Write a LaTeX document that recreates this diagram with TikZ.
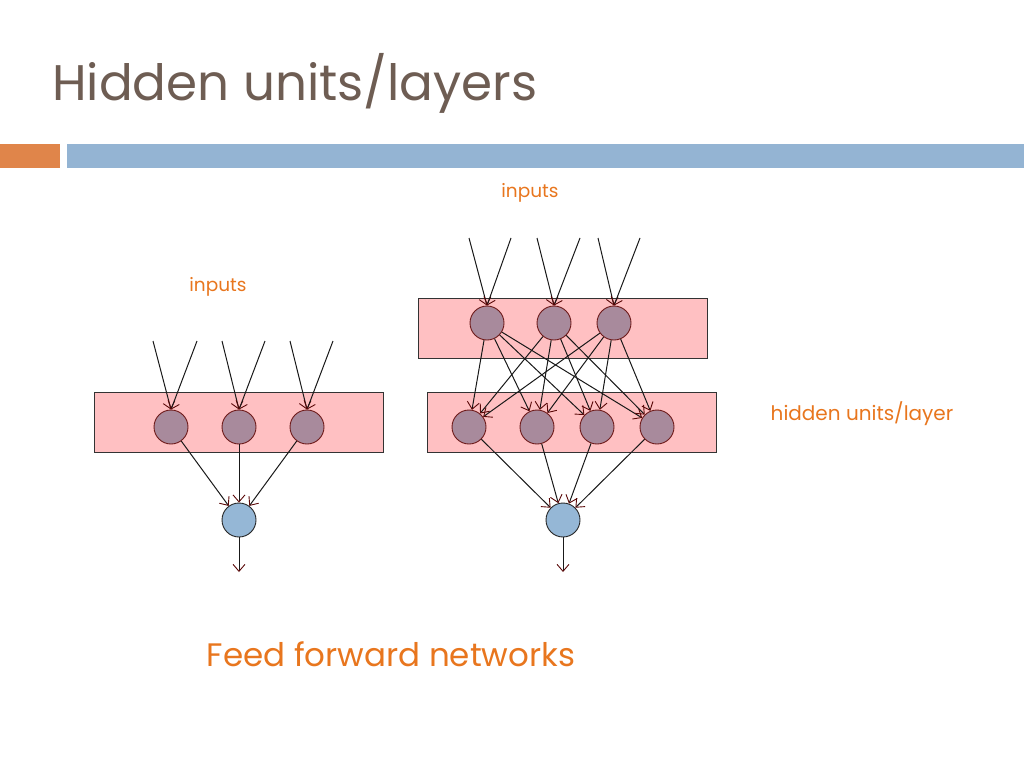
\documentclass[tikz,border=0pt]{standalone}
\usepackage{fontspec}
\setmainfont{Poppins}
\usetikzlibrary{arrows.meta}
\definecolor{titlec}{HTML}{6E5D53}
\definecolor{orangec}{HTML}{E8761E}
\definecolor{barorange}{HTML}{E0854A}
\definecolor{barblue}{HTML}{94B4D3}
\definecolor{boxfill}{HTML}{FFC0C2}
\definecolor{unitfill}{HTML}{A88A9C}
\definecolor{unitdraw}{HTML}{6E1A1A}
\definecolor{outfill}{HTML}{95B7D6}
\definecolor{tipc}{HTML}{5A0808}
\tikzset{
  layerbox/.style={draw=black!80, fill=boxfill, line width=0.9pt},
  unit/.style={circle, draw=unitdraw, fill=unitfill, minimum size=34pt, inner sep=0pt, line width=0.9pt},
  outunit/.style={circle, draw=black!85, fill=outfill, minimum size=34pt, inner sep=0pt, line width=0.9pt},
  conn/.style={draw=black!90, line width=1pt, -{Straight Barb[length=7pt,width=12pt,color=tipc,line width=0.9pt]}},
  lbl/.style={text=orangec, font=\fontsize{18.5}{22}\selectfont, inner sep=0pt},
}
\begin{document}
\begin{tikzpicture}[x=1pt,y=-1pt]
\useasboundingbox (0,0) rectangle (1024,768);
% title and bars
\node[anchor=west, text=titlec, inner sep=0pt, font=\fontsize{50}{60}\selectfont] (title) at (52,83) {Hidden units/layers};
\fill[barorange] (0,144) rectangle (60,168);
\fill[barblue] (67,144) rectangle (1024,168);

% ---------- left network ----------
\node[lbl] (inL) at (218,287) {inputs};
\draw[layerbox] (94,392) rectangle (383,452);
\node[unit] (a1) at (171,427) {};
\node[unit] (a2) at (239,427) {};
\node[unit] (a3) at (307,427) {};
\node[outunit] (ao) at (239,520) {};
\coordinate (ain1) at (153,341); \coordinate (ain2) at (197,341);
\coordinate (ain3) at (222,341); \coordinate (ain4) at (265,341);
\coordinate (ain5) at (290,341); \coordinate (ain6) at (333,341);
\coordinate (aend) at (239,572);
\draw[conn] (ain1) -- (a1.north);
\draw[conn] (ain2) -- (a1.north);
\draw[conn] (ain3) -- (a2.north);
\draw[conn] (ain4) -- (a2.north);
\draw[conn] (ain5) -- (a3.north);
\draw[conn] (ain6) -- (a3.north);
\draw[conn] (a1) -- (ao);
\draw[conn] (a2) -- (ao);
\draw[conn] (a3) -- (ao);
\draw[conn] (ao) -- (aend);

% ---------- right network ----------
\node[lbl] (inR) at (530,193) {inputs};
\node[lbl, font=\fontsize{20}{24}\selectfont] (hid) at (862,414) {hidden units/layer};
\draw[layerbox] (418,298) rectangle (707,358);
\draw[layerbox] (427,392) rectangle (716,452);
\node[unit] (b1) at (487,323) {};
\node[unit] (b2) at (554,323) {};
\node[unit] (b3) at (614,323) {};
\node[unit] (c1) at (469,427) {};
\node[unit] (c2) at (537,427) {};
\node[unit] (c3) at (597,427) {};
\node[unit] (c4) at (657,427) {};
\node[outunit] (co) at (563,520) {};
\coordinate (bin1) at (469,238); \coordinate (bin2) at (511,238);
\coordinate (bin3) at (537,238); \coordinate (bin4) at (580,238);
\coordinate (bin5) at (598,238); \coordinate (bin6) at (640,238);
\coordinate (cend) at (563,572);
\draw[conn] (bin1) -- (b1.north);
\draw[conn] (bin2) -- (b1.north);
\draw[conn] (bin3) -- (b2.north);
\draw[conn] (bin4) -- (b2.north);
\draw[conn] (bin5) -- (b3.north);
\draw[conn] (bin6) -- (b3.north);
\foreach \s in {b1,b2,b3}{
  \foreach \t in {c1,c2,c3,c4}{
    \draw[conn] (\s) -- (\t);
  }
}
\foreach \t in {c1,c2,c3,c4}{
  \draw[conn] (\t) -- (co);
}
\draw[conn] (co) -- (cend);

\node[text=orangec, inner sep=0pt, font=\fontsize{32.5}{38}\selectfont] (ff) at (391,654) {Feed forward networks};
\end{tikzpicture}
\end{document}
